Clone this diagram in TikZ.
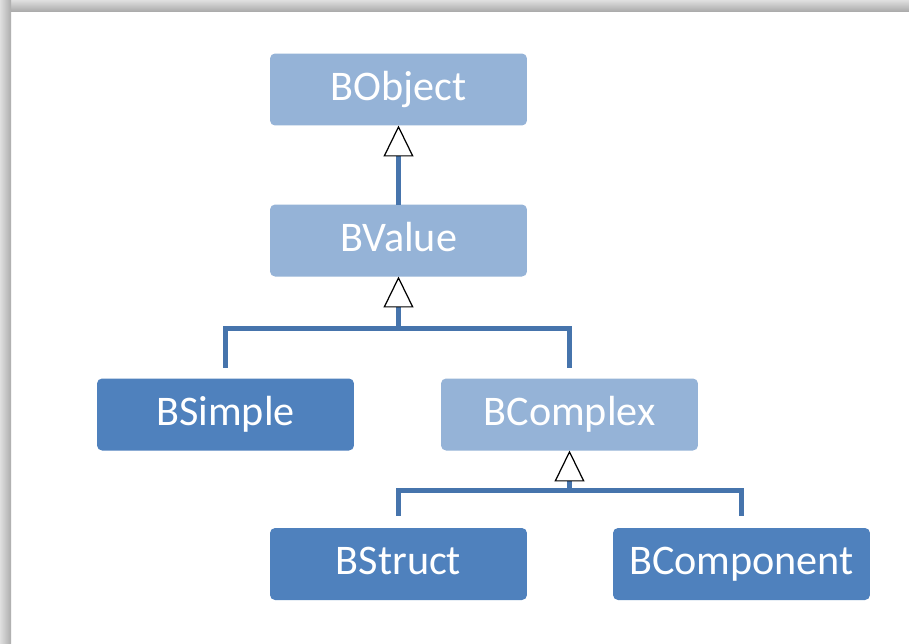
\documentclass[tikz,border=0pt]{standalone}
\usepackage{fontspec}
\setmainfont{Carlito}
\usetikzlibrary{arrows.meta,calc}

\definecolor{bluel}{RGB}{149,179,215}
\definecolor{blued}{RGB}{79,129,189}
\definecolor{bluelink}{RGB}{70,116,172}

\tikzset{
  box/.style={rounded corners=0.1cm, minimum width=5.14cm, minimum height=1.44cm,
    inner sep=0pt, outer sep=0pt, text height=0.5cm, text depth=0.08cm,
    text=white, font=\fontsize{24}{28}\selectfont},
  boxl/.style={box, fill=bluel},
  boxd/.style={box, fill=blued},
  link/.style={draw=bluelink, line width=0.1cm},
  inherit/.style={link, -{Triangle[length=0.62cm, width=0.6cm, color=black, fill=white, line width=0.7pt 0]}}
}

\begin{document}
\begin{tikzpicture}[x=0.02cm, y=-0.02cm]
            \useasboundingbox (0,0) rectangle (909,643);
            \fill[white] (0,0) rectangle (909,643);
            \shade[top color=gray!25, bottom color=gray!65] (0,0) rectangle (909,11);
            \shade[left color=gray!25, right color=gray!65] (0,0) rectangle (11,643);
            \node[boxl] (bobject) at (398.5,89.5) {BObject};
            \node[boxl] (bvalue) at (398.5,240.5) {BValue};
            \node[boxd] (bsimple) at (225.5,414.5) {BSimple};
            \node[boxl] (bcomplex) at (569.5,414.5) {BComplex};
            \node[boxd] (bstruct) at (398.5,564) {BStruct};
            \node[boxd] (bcomponent) at (741.5,564) {BComponent};
            \coordinate (split1) at ($(bvalue.south)+(0,52)$);
            \coordinate (split2) at ($(bcomplex.south)+(0,40)$);
            \draw[inherit] (bvalue) -- (bobject);
            \draw[link, shorten <=6pt, shorten >=6pt] (bsimple.north) |- (split1) -| (bcomplex.north);
            \draw[inherit] (split1) -- (bvalue.south);
            \draw[link, shorten <=7pt, shorten >=7pt] (bstruct.north) |- (split2) -| (bcomponent.north);
            \draw[inherit] (split2) -- (bcomplex.south);
        \end{tikzpicture}
\end{document}
